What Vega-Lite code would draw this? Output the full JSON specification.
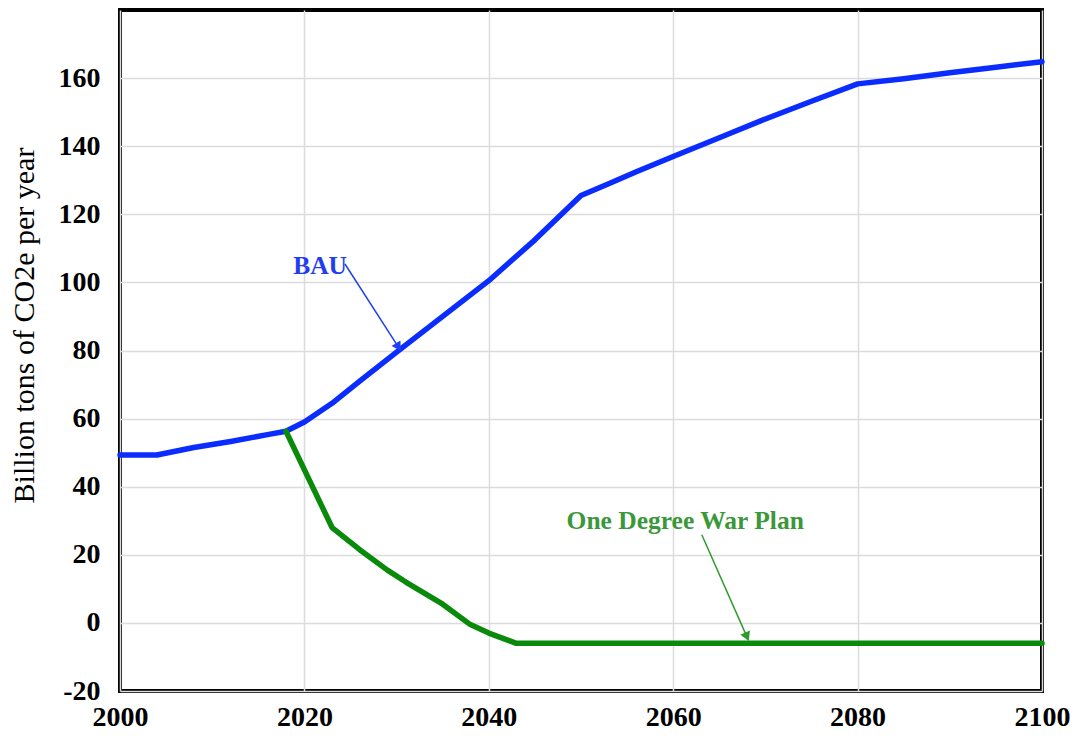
{
  "$schema": "https://vega.github.io/schema/vega-lite/v6.json",
  "width": 922,
  "height": 681,
  "autosize": {"type": "none"},
  "padding": {"left": 120, "top": 10, "right": 38, "bottom": 46},
  "background": "white",
  "config": {
    "view": {"stroke": "black", "strokeWidth": 4},
    "axis": {
      "labelFont": "Liberation Serif",
      "labelFontWeight": "bold",
      "labelFontSize": 28,
      "labelColor": "black",
      "gridColor": "#dcdcdc",
      "gridWidth": 1.5,
      "domain": false,
      "ticks": false
    }
  },
  "datasets": {
    "series": [
      {"year": 2000, "value": 49.3, "series": "BAU"},
      {"year": 2004, "value": 49.3, "series": "BAU"},
      {"year": 2008, "value": 51.5, "series": "BAU"},
      {"year": 2012, "value": 53.3, "series": "BAU"},
      {"year": 2016, "value": 55.3, "series": "BAU"},
      {"year": 2018, "value": 56.3, "series": "BAU"},
      {"year": 2020, "value": 59, "series": "BAU"},
      {"year": 2023, "value": 64.5, "series": "BAU"},
      {"year": 2026, "value": 71, "series": "BAU"},
      {"year": 2030, "value": 79.5, "series": "BAU"},
      {"year": 2035, "value": 90, "series": "BAU"},
      {"year": 2040, "value": 100.5, "series": "BAU"},
      {"year": 2045, "value": 112.5, "series": "BAU"},
      {"year": 2050, "value": 125.5, "series": "BAU"},
      {"year": 2053, "value": 129, "series": "BAU"},
      {"year": 2056, "value": 132.5, "series": "BAU"},
      {"year": 2060, "value": 137, "series": "BAU"},
      {"year": 2065, "value": 142.5, "series": "BAU"},
      {"year": 2070, "value": 148, "series": "BAU"},
      {"year": 2075, "value": 153.2, "series": "BAU"},
      {"year": 2080, "value": 158.3, "series": "BAU"},
      {"year": 2085, "value": 159.8, "series": "BAU"},
      {"year": 2090, "value": 161.6, "series": "BAU"},
      {"year": 2095, "value": 163.2, "series": "BAU"},
      {"year": 2100, "value": 164.8, "series": "BAU"},
      {"year": 2018, "value": 56.3, "series": "One Degree War Plan"},
      {"year": 2023, "value": 28, "series": "One Degree War Plan"},
      {"year": 2026, "value": 21.5, "series": "One Degree War Plan"},
      {"year": 2029, "value": 15.5, "series": "One Degree War Plan"},
      {"year": 2031, "value": 12, "series": "One Degree War Plan"},
      {"year": 2035, "value": 5.5, "series": "One Degree War Plan"},
      {"year": 2038, "value": -0.5, "series": "One Degree War Plan"},
      {"year": 2040, "value": -3, "series": "One Degree War Plan"},
      {"year": 2043, "value": -6, "series": "One Degree War Plan"},
      {"year": 2100, "value": -6, "series": "One Degree War Plan"}
    ],
    "labels": [
      {"label": "BAU", "year": 2021.7, "value": 104.9, "series": "BAU"},
      {"label": "One Degree War Plan", "year": 2061.3, "value": 30, "series": "One Degree War Plan"}
    ],
    "arrows": [
      {"series": "BAU", "year": 2024.4, "value": 105.4, "year2": 2030.2, "value2": 81},
      {"series": "One Degree War Plan", "year": 2063.1, "value": 25.9, "year2": 2068.0, "value2": -4.1}
    ]
  },
  "layer": [
    {
      "data": {"name": "series"},
      "mark": {"type": "line", "strokeWidth": 5.5, "strokeCap": "round", "strokeJoin": "round"},
      "encoding": {
        "x": {
          "field": "year", "type": "quantitative",
          "scale": {"domain": [2000, 2100], "nice": false, "zero": false},
          "axis": {"values": [2000, 2020, 2040, 2060, 2080, 2100], "format": "d", "title": null, "labelPadding": 12, "labelFlush": false}
        },
        "y": {
          "field": "value", "type": "quantitative",
          "scale": {"domain": [-20, 180], "nice": false, "zero": false},
          "axis": {
            "values": [-20, 0, 20, 40, 60, 80, 100, 120, 140, 160],
            "labelExpr": "'' + datum.value",
            "title": "Billion tons of CO2e per year",
            "titleFont": "Liberation Serif", "titleFontWeight": "normal", "titleFontSize": 30, "titleColor": "black",
            "titleAngle": 270, "titleAlign": "center", "titleBaseline": "middle",
            "titleX": -96, "titleY": 315,
            "labelPadding": 20
          }
        },
        "color": {
          "field": "series", "type": "nominal",
          "scale": {"domain": ["BAU", "One Degree War Plan"], "range": ["#0a2cff", "#0a8a0a"]},
          "legend": null
        }
      }
    },
    {
      "data": {"name": "arrows"},
      "mark": {"type": "rule", "strokeWidth": 1.5},
      "encoding": {
        "x": {"field": "year", "type": "quantitative"},
        "y": {"field": "value", "type": "quantitative"},
        "x2": {"field": "year2"},
        "y2": {"field": "value2"},
        "color": {"field": "series", "type": "nominal", "scale": {"domain": ["BAU", "One Degree War Plan"], "range": ["#2040f0", "#2f9a2f"]}, "legend": null}
      }
    },
    {
      "data": {"name": "arrows"},
      "transform": [{"filter": "datum.series === 'BAU'"}],
      "mark": {"type": "point", "shape": "triangle-up", "filled": true, "size": 110, "angle": 147.5, "opacity": 1, "color": "#2040f0"},
      "encoding": {
        "x": {"field": "year2", "type": "quantitative"},
        "y": {"field": "value2", "type": "quantitative"}
      }
    },
    {
      "data": {"name": "arrows"},
      "transform": [{"filter": "datum.series !== 'BAU'"}],
      "mark": {"type": "point", "shape": "triangle-up", "filled": true, "size": 110, "angle": 156, "opacity": 1, "color": "#2f9a2f"},
      "encoding": {
        "x": {"field": "year2", "type": "quantitative"},
        "y": {"field": "value2", "type": "quantitative"}
      }
    },
    {
      "data": {"name": "labels"},
      "mark": {"type": "text", "font": "Liberation Serif", "fontWeight": "bold", "fontSize": 25.5, "align": "center", "baseline": "middle"},
      "encoding": {
        "x": {"field": "year", "type": "quantitative"},
        "y": {"field": "value", "type": "quantitative"},
        "text": {"field": "label"},
        "color": {"field": "series", "type": "nominal", "scale": {"domain": ["BAU", "One Degree War Plan"], "range": ["#1f3df2", "#3a983a"]}, "legend": null}
      }
    }
  ],
  "resolve": {"scale": {"color": "independent"}}
}
